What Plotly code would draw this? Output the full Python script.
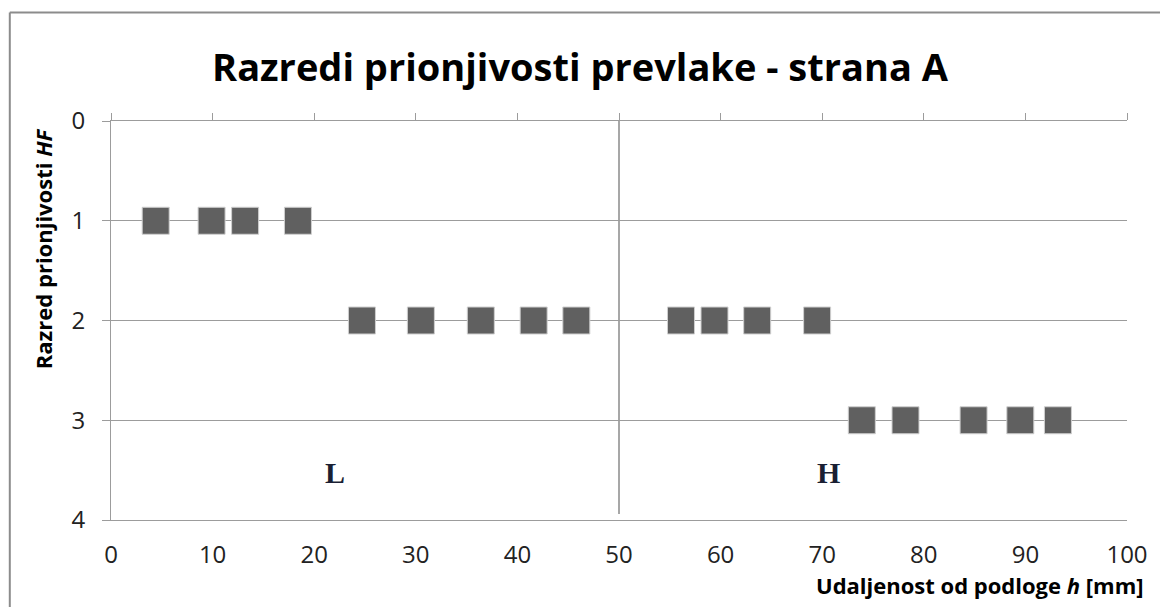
import plotly.graph_objects as go

# Data
h_row1 = [4.4, 9.9, 13.2, 18.4]
hf_row1 = [1, 1, 1, 1]
h_row2 = [24.7, 30.5, 36.4, 41.6, 45.8, 56.1, 59.4, 63.6, 69.5]
hf_row2 = [2, 2, 2, 2, 2, 2, 2, 2, 2]
h_row3 = [73.9, 78.2, 84.9, 89.5, 93.2]
hf_row3 = [3, 3, 3, 3, 3]

h_vals = h_row1 + h_row2 + h_row3
hf_vals = hf_row1 + hf_row2 + hf_row3

x_ticks = [0, 10, 20, 30, 40, 50, 60, 70, 80, 90, 100]
y_ticks = [0, 1, 2, 3, 4]
zone_labels = ["L", "H"]
zone_x = [22, 70.6]
zone_y = [3.52, 3.52]
divider_x = 50

GRID = "#9c9c9c"
FONT = "Open Sans"


def px(xp):
    return (xp - 111) / 1019


def py(yp):
    return (520 - yp) / 399


fig = go.Figure()
fig.add_trace(go.Scatter(
    x=h_vals, y=hf_vals, mode="markers",
    marker=dict(symbol="square", size=27, color="#606060",
                line=dict(color="#cfcfcf", width=1)),
    showlegend=False, hoverinfo="x+y",
))
# invisible trace so the top axis (tick marks only) is drawn
fig.add_trace(go.Scatter(x=[0, 100], y=[0, 0], xaxis="x2", mode="markers",
                         marker=dict(opacity=0), showlegend=False, hoverinfo="skip"))

fig.update_layout(
    width=1160, height=607,
    paper_bgcolor="white", plot_bgcolor="white",
    margin=dict(l=111, r=30, t=121, b=87),
    font=dict(family=FONT, color="#222222"),
    title=dict(text="<b>Razredi prionjivosti prevlake - strana A</b>",
               x=0.5, xanchor="center", xref="container", yref="container",
               y=1 - 68 / 607, yanchor="middle",
               font=dict(family=FONT, size=38, color="#000000")),
    xaxis=dict(range=[0, 100], tickvals=x_ticks, showgrid=False, zeroline=False,
               showline=True, linecolor=GRID, linewidth=1, ticks="",
               tickfont=dict(size=24, color="#222222"), ticklabelstandoff=13),
    xaxis2=dict(range=[0, 100], tickvals=x_ticks, overlaying="x", side="top",
                showgrid=False, zeroline=False, showline=True, linecolor=GRID,
                ticks="outside", ticklen=7, tickcolor=GRID, showticklabels=False),
    yaxis=dict(range=[4, 0], tickvals=y_ticks, showgrid=True, gridcolor=GRID,
               gridwidth=1, zeroline=False, showline=True, linecolor=GRID,
               ticks="outside", ticklen=8, tickcolor=GRID,
               tickfont=dict(size=24, color="#222222"), ticklabelstandoff=12),
    shapes=[
        dict(type="line", xref="x", yref="y", x0=divider_x, x1=divider_x,
             y0=0, y1=3.94, line=dict(color="#8a8a8a", width=1.5), layer="below"),
        dict(type="line", xref="paper", yref="paper",
             x0=px(9.5), x1=px(9.5), y0=py(12.5), y1=py(610),
             line=dict(color="#8c8c8c", width=2)),
        dict(type="line", xref="paper", yref="paper",
             x0=px(9.5), x1=px(1165), y0=py(12.5), y1=py(12.5),
             line=dict(color="#8c8c8c", width=2)),
    ],
    annotations=[
        dict(text="<b>Razred prionjivosti <i>HF</i></b>", xref="paper", yref="paper",
             x=px(43), y=py(249), textangle=-90, showarrow=False,
             xanchor="center", yanchor="middle",
             font=dict(family=FONT, size=22, color="#000000")),
        dict(text="<b>Udaljenost od podloge <i>h</i> [mm]</b>", xref="paper", yref="paper",
             x=px(1149), y=py(585), showarrow=False,
             xanchor="right", yanchor="middle",
             font=dict(family=FONT, size=22, color="#000000")),
    ] + [
        dict(text=f"<b>{t}</b>", x=xx, y=yy, xref="x", yref="y", showarrow=False,
             font=dict(family="Liberation Serif", size=30, color="#1a1f33"))
        for t, xx, yy in zip(zone_labels, zone_x, zone_y)
    ],
)

fig.write_html("out.html", config={"displayModeBar": False},
               post_script="document.body.style.margin='0';")
